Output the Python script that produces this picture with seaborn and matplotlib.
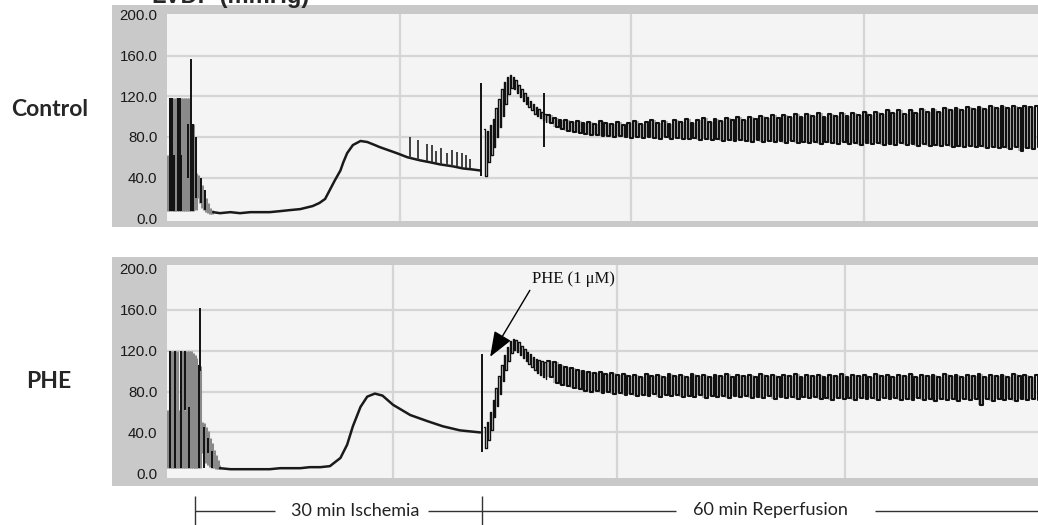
import numpy as np
import pandas as pd
import matplotlib
matplotlib.use("Agg")
import matplotlib.pyplot as plt
import seaborn as sns

# time in min (0 = start of global ischemia), pressure in mmHg

# ---------------- Control ----------------
ctrl_pre_t = [-2.85, -2.65, -2.45, -2.25, -2.05, -1.85, -1.65, -1.45, -1.25, -1.05,
              -0.85, -0.65, -0.45, -0.25, -0.05, 0.15, 0.35, 0.55, 0.75, 0.95,
              1.15, 1.35, 1.55, 1.75]
ctrl_pre_hi = [62, 118, 118, 62, 118, 118, 62, 118, 118, 118, 118, 118, 93, 93, 80, 45,
               43, 40, 33, 28, 20, 15, 10, 8]
ctrl_pre_lo = [7, 7, 7, 7, 7, 7, 7, 7, 7, 7, 7, 7, 7, 7, 20, 8, 20, 15, 10, 8, 6, 5, 4, 4]
ctrl_dark_t = [-2.6, -2.45, -2.2, -1.8, -1.6, -1.45, -0.75, -0.42, -0.2, 0.05, 0.6, 1.0]
ctrl_dark_hi = [118, 118, 62, 118, 118, 62, 93, 157, 93, 80, 40, 28]
ctrl_dark_lo = [7, 7, 7, 7, 7, 7, 40, 7, 7, 20, 15, 8]

ctrl_isch_t = [1.9, 2.6, 3.7, 4.7, 5.8, 6.8, 7.8, 8.9, 9.9, 11.0, 12.3, 13.0, 13.6, 14.1,
               14.6, 15.2, 15.5, 15.9, 16.5, 17.3, 18.0, 18.8, 19.3, 20.5, 21.1, 22.2,
               23.5, 24.6, 25.6, 27.0, 28.0, 29.0, 29.8]
ctrl_isch_p = [6, 5, 6, 5, 6, 6, 6, 7, 8, 9, 12, 15, 19, 28, 37, 47, 55, 64, 72, 76, 75,
               72, 70, 66, 64, 60, 57, 55, 53, 51, 49, 48, 47]
ctrl_twitch_t = [22.5, 23.3, 24.2, 24.8, 25.2, 25.7, 26.3, 26.9, 27.4, 27.9, 28.3, 28.7]
ctrl_twitch_lo = [59, 57, 56, 55, 54, 53, 52, 51, 51, 50, 49, 49]
ctrl_twitch_hi = [80, 77, 73, 72, 66, 69, 64, 67, 65, 64, 62, 58]

ctrl_spike_t = [29.9, 36.5]
ctrl_spike_lo = [42, 70]
ctrl_spike_hi = [133, 123]

# first minutes of reperfusion (fast sampling)
ctrl_early_lo = [42, 55, 62, 70, 80, 90, 101, 112, 122, 128, 127, 123, 119, 115, 112, 109,
                 106, 103, 101, 99, 97, 95]
ctrl_early_hi = [88, 86, 92, 98, 108, 117, 127, 134, 139, 141, 139, 136, 131, 127, 123,
                 119, 115, 112, 109, 107, 105, 103]
# rest of reperfusion
ctrl_rep_lo = [94, 90, 88, 86, 85, 84, 83,
               82, 82, 81, 81, 80, 81, 80, 79, 80, 79, 80, 79, 78, 80, 78, 79, 78, 78, 79,
               77, 78, 77, 78, 76, 77, 76, 77, 76, 75, 77, 75, 76, 75, 76, 74, 76, 74, 75,
               74, 75, 73, 75, 74, 73, 75, 73, 74, 72, 74, 73, 74, 72, 73, 72, 74, 72, 73,
               71, 73, 71, 72, 71, 72, 70, 71, 70, 71, 70, 71, 69, 70, 69, 70, 68, 70, 66,
               69, 68, 70]
ctrl_rep_hi = [102, 99, 97, 97, 95, 96,
               94, 95, 93, 96, 94, 93, 95, 92, 94, 96, 93, 95, 97, 94, 96, 93, 97, 95, 98,
               94, 97, 99, 95, 98, 96, 99, 97, 100, 97, 100, 98, 101, 99, 102, 99, 102, 100,
               103, 100, 103, 101, 104, 100, 103, 101, 104, 101, 104, 102, 105, 102, 105,
               103, 106, 104, 106, 103, 106, 104, 107, 105, 107, 105, 108, 106, 108, 106,
               109, 107, 109, 107, 110, 108, 110, 108, 110, 108, 110, 109, 110]

# ---------------- PHE ----------------
phe_pre_t = [-2.85, -2.65, -2.45, -2.25, -2.05, -1.85, -1.65, -1.45, -1.25, -1.05,
             -0.85, -0.65, -0.45, -0.25, -0.05, 0.15, 0.35, 0.55, 0.75, 0.95,
             1.15, 1.35, 1.55, 1.75, 1.95, 2.15, 2.35, 2.55]
phe_pre_hi = [62, 120, 120, 62, 120, 120, 62, 120, 120, 62, 120, 120, 120, 118, 116, 113,
              106, 105, 50, 49, 45, 41, 35, 30, 23, 18, 13, 8]
phe_pre_lo = [5, 5, 5, 5, 5, 5, 5, 5, 5, 5, 5, 5, 5, 5, 5, 5, 5, 5, 20, 15, 10, 8, 6, 5,
              5, 4, 4, 4]
phe_dark_t = [-2.65, -2.1, -1.5, -1.0, -0.6, 0.4, 0.95, 1.35, 1.75]
phe_dark_hi = [120, 120, 120, 120, 65, 106, 45, 35, 22]
phe_dark_lo = [5, 5, 5, 62, 5, 5, 5, 20, 5]

phe_isch_t = [2.6, 3.7, 4.7, 5.8, 6.8, 7.8, 8.9, 9.9, 11.0, 12.0, 13.1, 14.1, 15.2, 15.9,
              16.5, 17.3, 18.0, 18.8, 19.6, 20.7, 22.5, 24.3, 25.9, 27.7, 29.8]
phe_isch_p = [5, 4, 4, 4, 4, 4, 5, 5, 5, 6, 6, 7, 15, 28, 46, 65, 75, 78, 76, 67, 57, 51,
              46, 42, 40]

phe_spike_t = [29.95, 0.55]
phe_spike_lo = [21, 100]
phe_spike_hi = [117, 162]

phe_early_lo = [25, 33, 42, 55, 66, 78, 90, 101, 110, 118, 121, 119, 116, 113, 110, 107,
                104, 101, 98, 96, 94, 92]
phe_early_hi = [45, 50, 60, 72, 83, 95, 106, 116, 124, 129, 131, 130, 128, 125, 122, 119,
                117, 114, 112, 111, 110, 109]
phe_rep_lo = [94, 88, 86, 85, 83, 82, 81,
              80, 81, 79, 80, 78, 79, 77, 78, 76, 77, 76, 78, 75, 77, 76, 77, 75, 76, 75,
              77, 74, 76, 75, 76, 74, 76, 75, 76, 74, 75, 74, 76, 73, 75, 74, 75, 73, 75,
              74, 75, 73, 74, 72, 74, 73, 74, 72, 74, 73, 74, 72, 74, 73, 74, 72, 73, 72,
              74, 72, 73, 71, 73, 72, 73, 71, 73, 72, 73, 67, 73, 71, 73, 72, 73, 71, 73,
              72, 73, 72]
phe_rep_hi = [110, 109, 106, 104, 103,
              101, 100, 99, 98, 99, 97, 98, 96, 97, 95, 96, 94, 97, 95, 96, 94, 97, 95, 96,
              94, 97, 95, 96, 94, 96, 95, 97, 94, 96, 95, 96, 94, 97, 95, 96, 94, 96, 95,
              97, 94, 96, 95, 96, 94, 96, 95, 97, 94, 96, 95, 96, 94, 97, 95, 96, 94, 96,
              95, 97, 94, 96, 95, 96, 94, 97, 95, 96, 94, 96, 95, 97, 94, 96, 95, 96, 94,
              97, 95, 96, 94, 96]

early_start, early_step = 30.2, 0.3   # min
rep_start, beat_step = 36.8, 0.6      # min

y_ticks = [0, 40, 80, 120, 160, 200]
phases = ["30 min Ischemia", "60 min Reperfusion"]

# ---------------- layout ----------------
W, H = 1038, 525
T_MIN, T_MAX = -2.93, 88.12
FRAME = "#c9c9c9"
PLOT_BG = "#f4f4f4"
GRID = "#d5d5d5"

sns.set_style("white")
plt.rcParams["font.family"] = ["Liberation Sans", "DejaVu Sans"]

fig = plt.figure(figsize=(W / 100, H / 100), dpi=100)


def px_rect(x0, y0, x1, y1):
    return [x0 / W, 1 - y1 / H, (x1 - x0) / W, (y1 - y0) / H]


def make_panel(frame, inner, ylim, vgrid):
    bg = fig.add_axes(px_rect(*frame))
    bg.set_facecolor(FRAME)
    bg.set_xticks([])
    bg.set_yticks([])
    for s in bg.spines.values():
        s.set_visible(False)
    ax = fig.add_axes(px_rect(*inner))
    ax.set_facecolor(PLOT_BG)
    ax.set_xlim(T_MIN, T_MAX)
    ax.set_ylim(*ylim)
    ax.set_yticks(y_ticks)
    ax.set_yticklabels([f"{v:.1f}" for v in y_ticks])
    ax.set_xticks([])
    for s in ax.spines.values():
        s.set_visible(False)
    ax.tick_params(axis="y", direction="out", length=6, width=1.3, color="#2a2a2a",
                   labelsize=10.8, labelcolor="#1a1a1a", pad=1)
    for v in y_ticks[1:-1]:
        ax.axhline(v, color=GRID, lw=1.6, zorder=0)
    for v in vgrid:
        ax.axvline(v, color=GRID, lw=1.6, zorder=0)
    return ax


def beat_wave(ax, start, step, lo, hi, lw=1.5, fill=True):
    t = start + step * np.arange(len(hi))
    if fill:
        ax.fill_between(t, lo, hi, step="post", color="#b0b0b0", lw=0, zorder=1)
    xs = np.column_stack([t, t + step / 2]).ravel()
    ys = np.column_stack([hi, lo]).ravel()
    wave = pd.DataFrame({"t": xs, "p": ys})
    sns.lineplot(data=wave, x="t", y="p", ax=ax, color="#111111", lw=lw,
                 drawstyle="steps-post", estimator=None, sort=False, zorder=2)


def draw_trace(ax, pre, dark, isch, spikes, early, rep, twitch=None):
    ax.vlines(pre[0], pre[1], pre[2], color="#8a8a8a", lw=2.2)
    ax.vlines(dark[0], dark[1], dark[2], color="#111111", lw=1.4)
    sns.lineplot(x=isch[0], y=isch[1], ax=ax, color="#1a1a1a", lw=1.8,
                 estimator=None, sort=False)
    if twitch is not None:
        ax.vlines(twitch[0], twitch[1], twitch[2], color="#333333", lw=1.3)
    beat_wave(ax, early_start, early_step, early[0], early[1], lw=1.0, fill=False)
    beat_wave(ax, rep_start, beat_step, rep[0], rep[1])
    ax.vlines(spikes[0], spikes[1], spikes[2], color="#111111", lw=1.4, zorder=3)
    ax.set_xlabel("")
    ax.set_ylabel("")


ax1 = make_panel((112, 5, 1038, 227), (167, 14, 1038, 221), (-2.7, 200.9),
                 [21.4, 45.6, 69.9])
draw_trace(ax1, (ctrl_pre_t, ctrl_pre_lo, ctrl_pre_hi),
           (ctrl_dark_t, ctrl_dark_lo, ctrl_dark_hi),
           (ctrl_isch_t, ctrl_isch_p),
           (ctrl_spike_t, ctrl_spike_lo, ctrl_spike_hi),
           (ctrl_early_lo, ctrl_early_hi),
           (ctrl_rep_lo, ctrl_rep_hi),
           twitch=(ctrl_twitch_t, ctrl_twitch_lo, ctrl_twitch_hi))

ax2 = make_panel((112, 257, 1038, 486), (167, 265, 1038, 478), (-4.6, 203.8),
                 [20.7, 44.1, 67.9])
draw_trace(ax2, (phe_pre_t, phe_pre_lo, phe_pre_hi),
           (phe_dark_t, phe_dark_lo, phe_dark_hi),
           (phe_isch_t, phe_isch_p),
           (phe_spike_t, phe_spike_lo, phe_spike_hi),
           (phe_early_lo, phe_early_hi),
           (phe_rep_lo, phe_rep_hi))

# drug annotation
ax2.annotate("", xy=(30.85, 114), xytext=(35.0, 179),
             arrowprops=dict(arrowstyle="-|>,head_length=1.3,head_width=0.5",
                             color="black", lw=1.0, mutation_scale=12,
                             shrinkA=0, shrinkB=0))
ax2.text(35.25, 190.5, "PHE (1 \u03bcM)", family=["Liberation Serif", "DejaVu Serif"],
         fontsize=12, ha="left", va="center", color="#111111")

# row labels and the header clipped at the top edge
fig.text(50 / W, 1 - 110 / H, "Control", family=["Lato", "DejaVu Sans"],
         fontweight="bold", fontsize=16.5, ha="center", va="center")
fig.text(49 / W, 1 - 381 / H, "PHE", family=["Lato", "DejaVu Sans"],
         fontweight="bold", fontsize=16.5, ha="center", va="center")
fig.text(152 / W, 1 - 3 / H, "LVDP (mmHg)", fontweight="bold", fontsize=17,
         ha="left", va="baseline")

# protocol timeline below the traces
tl = fig.add_axes(px_rect(167, 496, 1038, 525))
tl.set_xlim(T_MIN, T_MAX)
tl.set_ylim(0, 1)
tl.axis("off")
lc = "#333333"
tl.vlines([0, 30], 0.0, 1.0, color=lc, lw=1.0)
tl.hlines(0.5, 0, 8.4, color=lc, lw=1.0)
tl.hlines(0.5, 24.4, 30, color=lc, lw=1.0)
tl.hlines(0.5, 30, 50.3, color=lc, lw=1.0)
tl.hlines(0.5, 71.1, T_MAX, color=lc, lw=1.0)
tl.text(16.7, 0.5, phases[0], family=["Lato", "DejaVu Sans"], fontsize=13,
        ha="center", va="center", color="#222222")
tl.text(60.1, 0.5, phases[1], family=["Lato", "DejaVu Sans"], fontsize=13,
        ha="center", va="center", color="#222222")

fig.savefig("out.png", dpi=100)
